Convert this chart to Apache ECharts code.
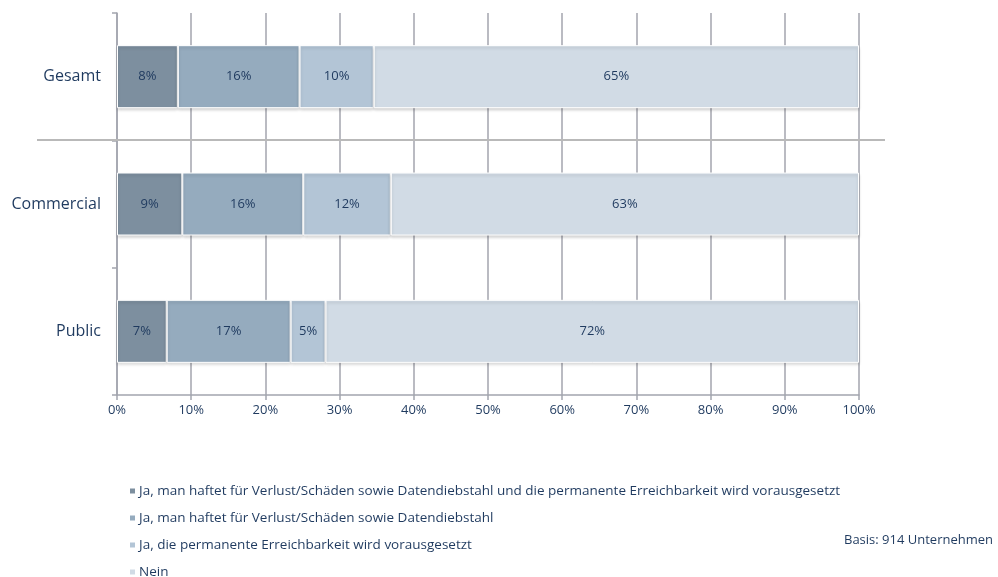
<!DOCTYPE html>
<html>
<head>
<meta charset="utf-8">
<script src="https://cdn.jsdelivr.net/npm/echarts@6/dist/echarts.min.js"></script>
<style>
  html, body { margin: 0; padding: 0; background: #fff; }
  #chart { width: 998px; height: 577px; }
</style>
</head>
<body>
<div id="chart"></div>
<script>
const categories = ['Gesamt', 'Commercial', 'Public']
const seriesNames = [
  'Ja, man haftet für Verlust/Schäden sowie Datendiebstahl und die permanente Erreichbarkeit wird vorausgesetzt',
  'Ja, man haftet für Verlust/Schäden sowie Datendiebstahl',
  'Ja, die permanente Erreichbarkeit wird vorausgesetzt',
  'Nein'
]
const haftetUndErreichbar = [8.2, 8.8, 6.7]
const haftet = [16.4, 16.3, 16.7]
const erreichbar = [10.0, 11.8, 4.7]
const nein = [65.4, 63.1, 71.9]
const xTicks = [0, 10, 20, 30, 40, 50, 60, 70, 80, 90, 100]
const colors = ['#7d8f9f', '#95abbe', '#b3c5d6', '#d1dbe5']

const textColor = '#1f3a5f'
const font = '"Open Sans", sans-serif'

const chart = echarts.init(document.getElementById('chart'))

const values = [haftetUndErreichbar, haftet, erreichbar, nein]
const series = values.map((data, i) => ({
  name: seriesNames[i],
  type: 'bar',
  stack: 'total',
  barWidth: 63,
  data: data,
  itemStyle: {
    color: colors[i],
    borderColor: '#ffffff',
    borderWidth: 1,
    shadowColor: 'rgba(0,0,0,0.18)',
    shadowBlur: 3,
    shadowOffsetY: 2
  },
  label: {
    show: true,
    position: 'inside',
    color: textColor,
    fontFamily: font,
    fontSize: 13,
    formatter: p => Math.round(p.value) + '%'
  }
}))

chart.setOption({
  animation: false,
  textStyle: { fontFamily: font },
  grid: { left: 117, right: 139, top: 13, bottom: 182 },
  xAxis: {
    type: 'value',
    min: xTicks[0],
    max: xTicks[xTicks.length - 1],
    interval: 10,
    axisLine: { show: true, lineStyle: { color: '#a3a5ae', width: 1.5 } },
    axisTick: { show: true, length: 5, lineStyle: { color: '#a3a5ae', width: 1.5 } },
    splitLine: { show: true, lineStyle: { color: '#a3a5ae', width: 1.5 } },
    axisLabel: { color: textColor, fontSize: 13, margin: 9, formatter: '{value}%' }
  },
  yAxis: {
    type: 'category',
    inverse: true,
    data: categories,
    axisLine: { show: true, lineStyle: { color: '#a3a5ae', width: 1.5 } },
    axisTick: { show: true, length: 5, lineStyle: { color: '#a3a5ae', width: 1.5 } },
    axisLabel: { color: textColor, fontSize: 16, margin: 16 }
  },
  legend: {
    orient: 'vertical',
    left: 123,
    top: 479,
    height: 120,
    icon: 'rect',
    itemWidth: 7,
    itemHeight: 7,
    itemGap: 13,
    textStyle: { color: textColor, fontSize: 13.5, lineHeight: 14, padding: [0, 0, 0, -2] },
    data: seriesNames
  },
  title: {
    text: 'Basis: 914 Unternehmen',
    right: 0,
    top: 529,
    textStyle: { color: textColor, fontSize: 13, fontWeight: 'normal', fontFamily: font }
  },
  series: series
})

// separator line between Gesamt and Commercial
const yTop = chart.convertToPixel({ yAxisIndex: 0 }, categories[0])
const yNext = chart.convertToPixel({ yAxisIndex: 0 }, categories[1])
const ySep = Math.round((yTop + yNext) / 2)
chart.setOption({
  graphic: [{
    type: 'line',
    shape: { x1: 37, y1: ySep, x2: 885, y2: ySep },
    style: { stroke: '#b9b9b9', lineWidth: 2 },
    z: 10
  }]
})
</script>
</body>
</html>
